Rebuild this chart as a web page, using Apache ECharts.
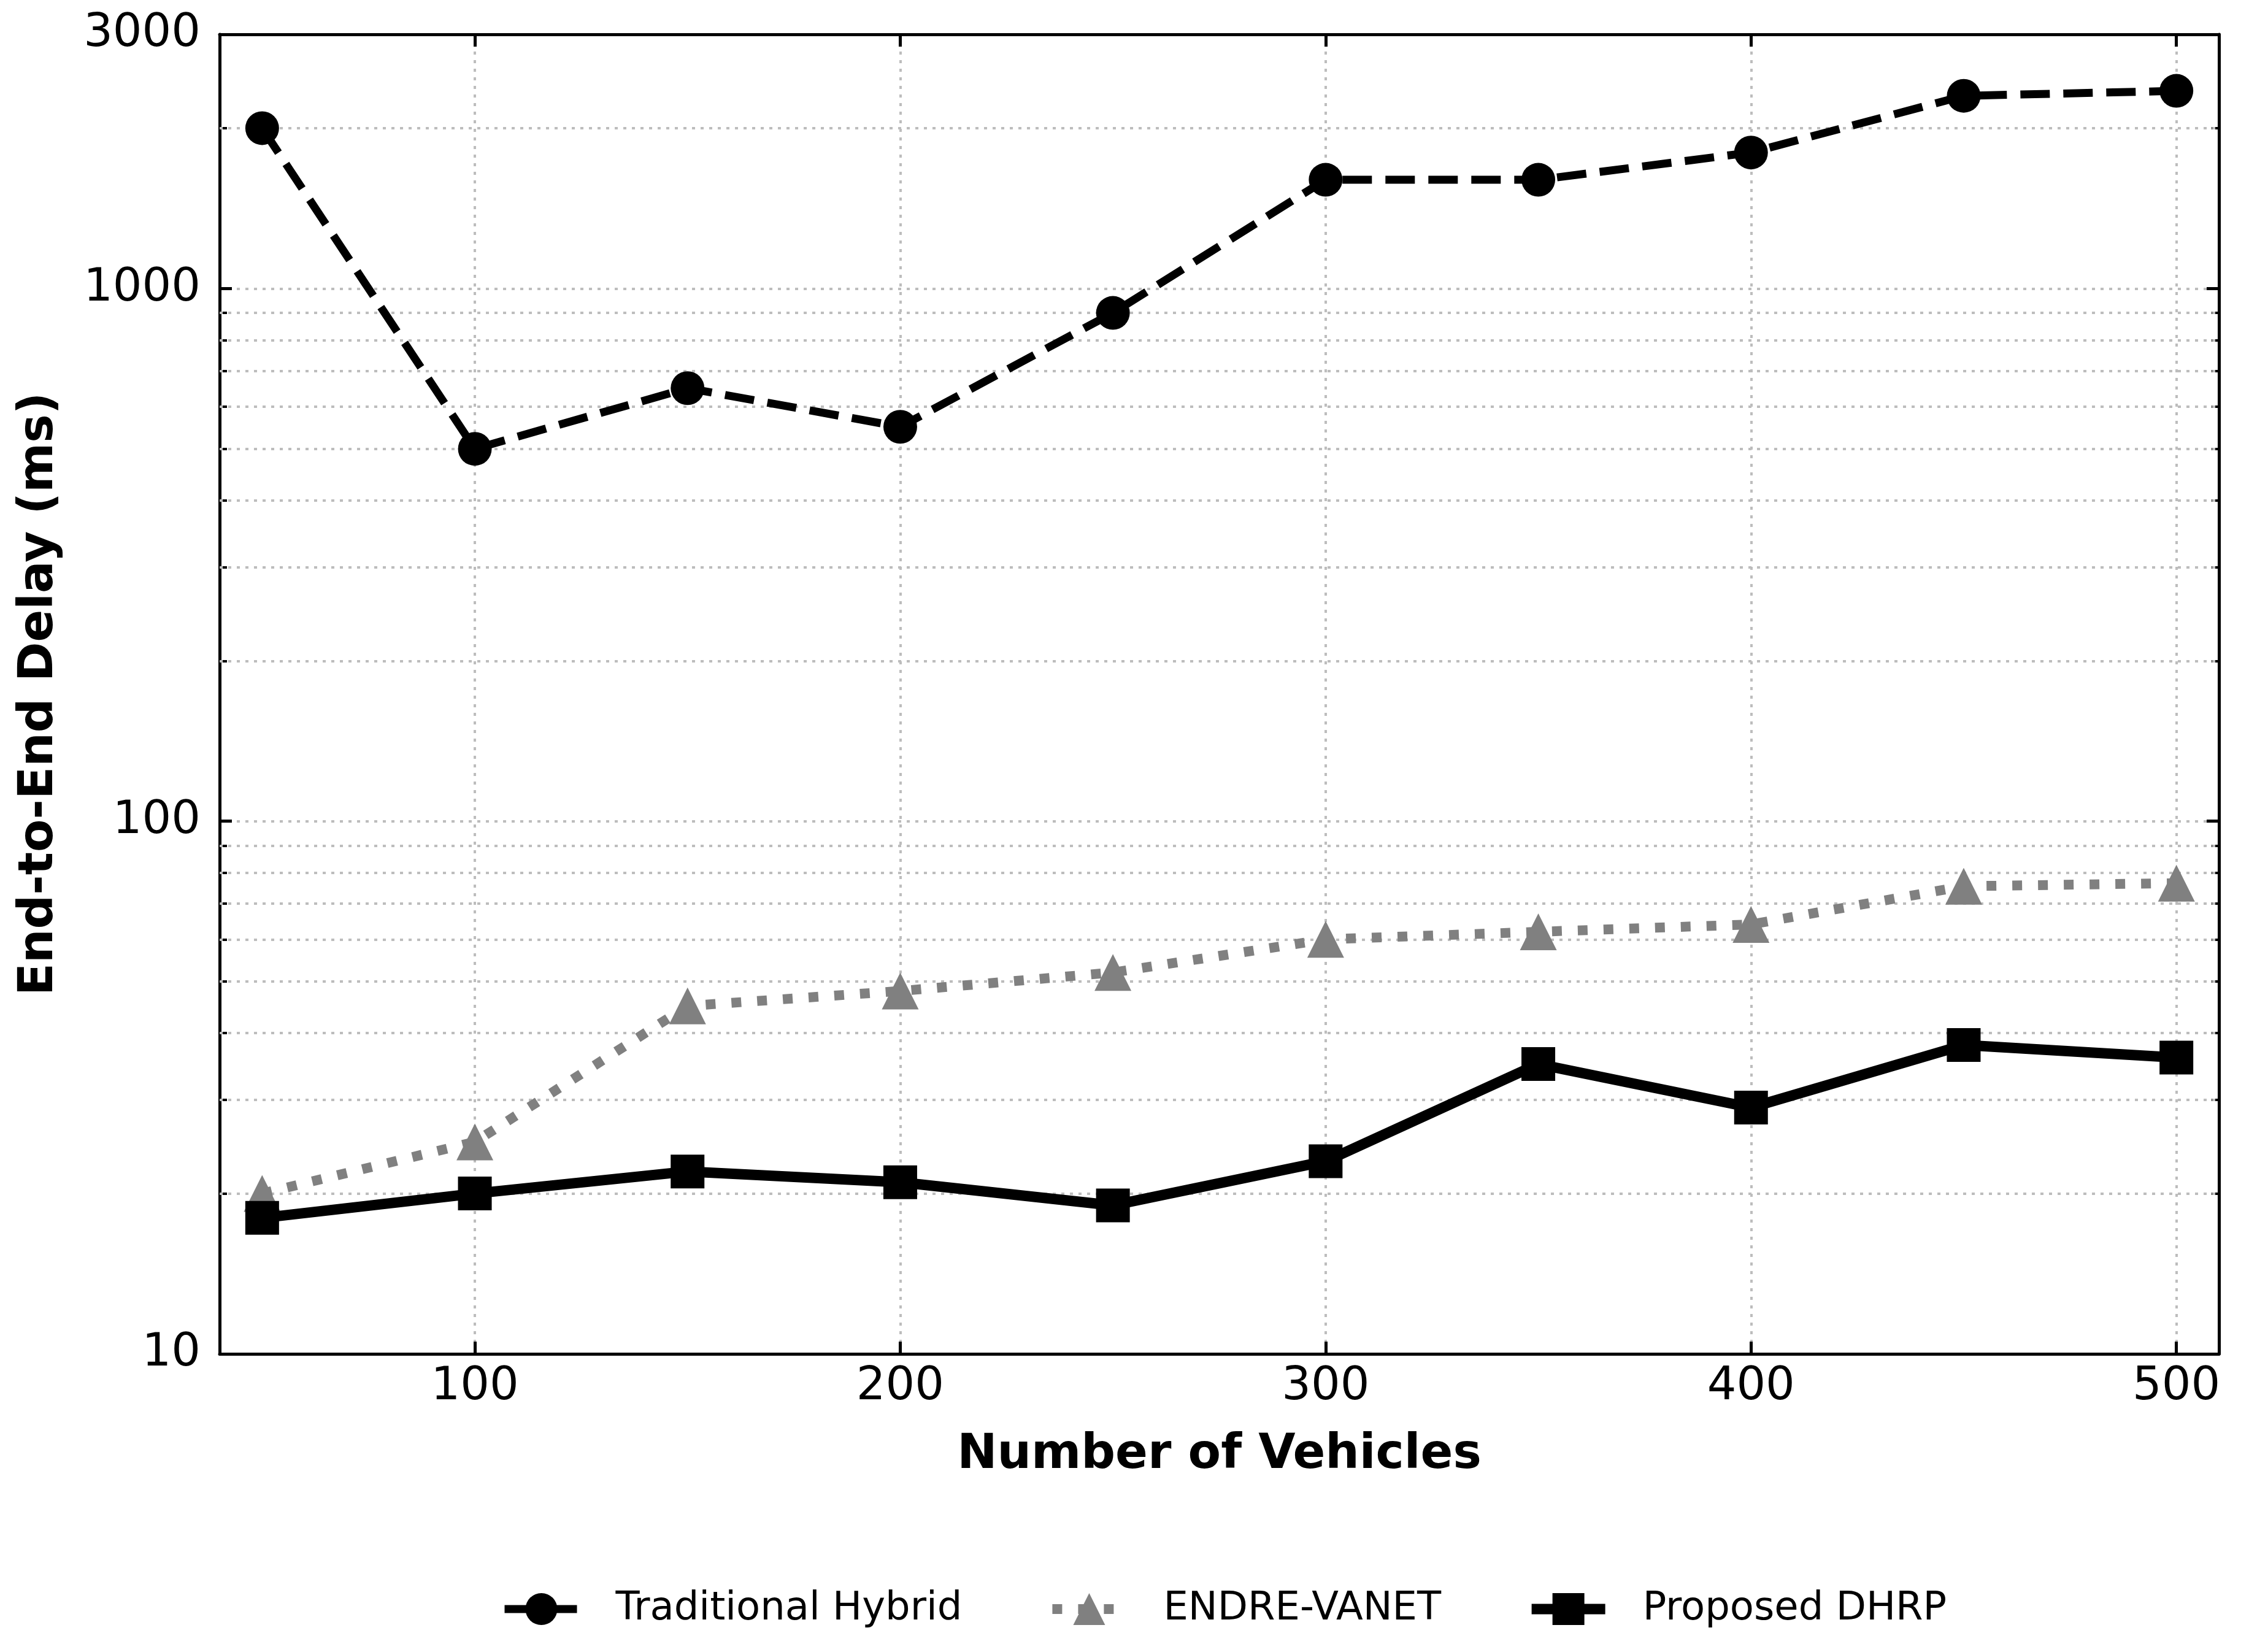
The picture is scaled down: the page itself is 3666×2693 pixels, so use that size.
<!DOCTYPE html>
<html><head><meta charset="utf-8">
<script src="https://cdn.jsdelivr.net/npm/echarts@6/dist/echarts.min.js"></script>
<style>html,body{margin:0;padding:0;background:#fff}#c{width:3666px;height:2693px}</style>
</head><body><div id="c"></div>
<script>
const vehicles = [50, 100, 150, 200, 250, 300, 350, 400, 450, 500];
const traditionalHybrid = [2000, 500, 650, 550, 900, 1600, 1600, 1800, 2300, 2350];
const endreVanet = [20, 25, 45, 48, 52, 60, 62, 64, 75.5, 76.5];
const proposedDhrp = [18, 20, 22, 21, 19, 23, 35, 29, 38, 36];
const seriesNames = ['Traditional Hybrid', 'ENDRE-VANET', 'Proposed DHRP'];
const xTickValues = [100, 200, 300, 400, 500];
const yMajorValues = [10, 100, 1000];
const yLabelValues = [10, 100, 1000, 3000];
const yMinorValues = [20, 30, 40, 50, 60, 70, 80, 90, 200, 300, 400, 500, 600, 700, 800, 900, 2000];

const FONT = 'DejaVu Sans';
const gridStyle = { color: '#bdbdbd', width: 4, type: [5, 9] };
const pairs = arr => vehicles.map((x, i) => [x, arr[i]]);

const xBase = {
  type: 'value', min: 40, max: 510, splitNumber: 5,
  axisLine: { show: true, onZero: false, lineStyle: { color: '#000', width: 5 } },
  axisTick: { show: true, inside: true, length: 20, customValues: xTickValues, lineStyle: { color: '#000', width: 5 } }
};
const yBase = {
  type: 'log', logBase: 10, min: 10, max: 3000
};

const chart = echarts.init(document.getElementById('c'), null, { renderer: 'canvas' });
chart.setOption({
  animation: false,
  backgroundColor: '#fff',
  grid: { left: 358, top: 56, width: 3259, height: 2151, containLabel: false, outerBoundsMode: 'none' },
  xAxis: [
    Object.assign({}, xBase, {
      position: 'bottom',
      name: 'Number of Vehicles', nameLocation: 'middle', nameGap: 127,
      nameTextStyle: { fontFamily: FONT, fontWeight: 'bold', fontSize: 78, color: '#000' },
      axisLabel: { show: true, customValues: xTickValues, margin: 17, fontFamily: FONT, fontSize: 75, color: '#000' },
      splitLine: { show: true, lineStyle: gridStyle }
    }),
    Object.assign({}, xBase, {
      position: 'top',
      axisLabel: { show: false },
      splitLine: { show: false }
    })
  ],
  yAxis: [
    Object.assign({}, yBase, {
      position: 'left',
      name: 'End-to-End Delay (ms)', nameLocation: 'middle', nameGap: 254, nameRotate: 90,
      nameTextStyle: { fontFamily: FONT, fontWeight: 'bold', fontSize: 78, color: '#000' },
      axisLine: { show: true, onZero: false, lineStyle: { color: '#000', width: 5 } },
      axisTick: { show: true, inside: true, length: 20, customValues: yMajorValues, lineStyle: { color: '#000', width: 5 } },
      axisLabel: { show: true, customValues: yLabelValues, margin: 31, fontFamily: FONT, fontSize: 75, color: '#000',
        formatter: v => String(Math.round(v)) },
      splitLine: { show: true, lineStyle: gridStyle }
    }),
    Object.assign({}, yBase, {
      position: 'left',
      axisLine: { show: false },
      axisTick: { show: true, inside: true, length: 12, customValues: yMinorValues, lineStyle: { color: '#000', width: 4 } },
      axisLabel: { show: false }, splitLine: { show: false }
    }),
    Object.assign({}, yBase, {
      position: 'right',
      axisLine: { show: true, onZero: false, lineStyle: { color: '#000', width: 5 } },
      axisTick: { show: true, inside: true, length: 20, customValues: yMajorValues, lineStyle: { color: '#000', width: 5 } },
      axisLabel: { show: false }, splitLine: { show: false }
    }),
    Object.assign({}, yBase, {
      position: 'right',
      axisLine: { show: false },
      axisTick: { show: true, inside: true, length: 12, customValues: yMinorValues, lineStyle: { color: '#000', width: 4 } },
      axisLabel: { show: false }, splitLine: { show: false }
    })
  ],
  legend: {
    data: seriesNames,
    left: 811, top: 2586, orient: 'horizontal',
    itemWidth: 120, itemHeight: 65, itemGap: 139,
    lineStyle: { width: 'inherit', type: 'inherit' },
    textStyle: { fontFamily: FONT, fontSize: 64, color: '#000', padding: [0, 0, 0, 56] }
  },
  series: [
    {
      type: 'line', name: 'minor-grid', xAxisIndex: 0, yAxisIndex: 0, z: 0, data: [],
      silent: true,
      markLine: {
        z: 1,
        silent: true, symbol: ['none', 'none'], animation: false,
        label: { show: false },
        lineStyle: gridStyle,
        emphasis: { disabled: true },
        data: yMinorValues.map(v => ({ yAxis: v }))
      }
    },
    {
      type: 'line', name: seriesNames[0], data: pairs(traditionalHybrid),
      symbol: 'circle', symbolSize: 55, z: 3,
      itemStyle: { color: '#000' },
      lineStyle: { color: '#000', width: 13, type: [48, 22] }
    },
    {
      type: 'line', name: seriesNames[1], data: pairs(endreVanet),
      symbol: 'triangle', symbolSize: [60, 60], z: 3,
      itemStyle: { color: '#808080' },
      lineStyle: { color: '#808080', width: 16, type: [16, 26] }
    },
    {
      type: 'line', name: seriesNames[2], data: pairs(proposedDhrp),
      symbol: 'rect', symbolSize: 55, z: 4,
      itemStyle: { color: '#000' },
      lineStyle: { color: '#000', width: 17, type: 'solid' }
    }
  ]
});
</script></body></html>
